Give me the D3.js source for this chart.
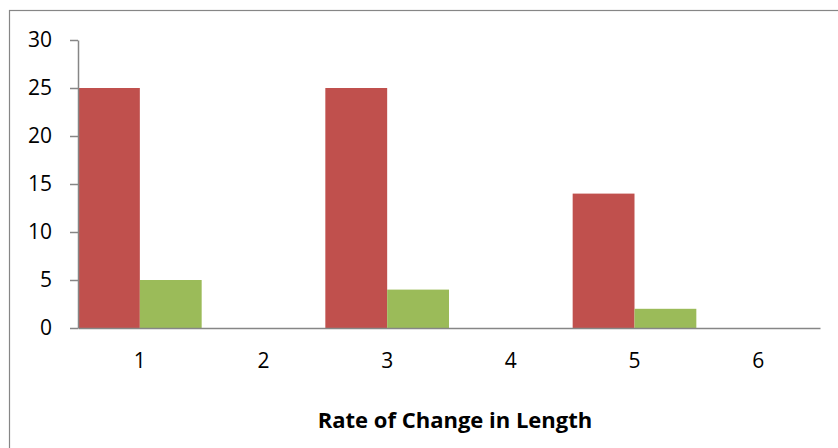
<!DOCTYPE html>
<html>
<head>
<meta charset="utf-8">
<script src="https://cdn.jsdelivr.net/npm/d3@7"></script>
<style>
  html, body { margin: 0; padding: 0; background: #fff; }
  svg { display: block; }
</style>
</head>
<body>
<svg id="chart" width="838" height="448"></svg>
<script>
// Chart data
const categories = ["1", "2", "3", "4", "5", "6"];
const seriesRed = [25, 0, 25, 0, 14, 0];
const seriesGreen = [5, 0, 4, 0, 2, 0];
const yTicks = [0, 5, 10, 15, 20, 25, 30];
const xTitle = "Rate of Change in Length";

const svg = d3.select("#chart");
const W = 838, H = 448;
const plot = { left: 78, right: 820, top: 40, bottom: 328 };
const font = "'Open Sans', Lato, sans-serif";

// Outer chart frame (extends past the right and bottom edges)
svg.append("rect")
  .attr("x", 9.5).attr("y", 10.5)
  .attr("width", W).attr("height", H)
  .attr("fill", "#fff")
  .attr("stroke", "#868686").attr("stroke-width", 1.2);

const x = d3.scaleBand().domain(categories).range([plot.left, plot.right]).padding(0);
const y = d3.scaleLinear().domain([0, 30]).range([plot.bottom, plot.top]);

const rows = categories.map((c, i) => ({ c, red: seriesRed[i], green: seriesGreen[i] }));
const half = x.bandwidth() / 2;

// Red series bars (left half of each band)
svg.append("g").selectAll("rect").data(rows.filter(d => d.red > 0)).join("rect")
  .attr("x", d => x(d.c))
  .attr("y", d => y(d.red))
  .attr("width", half)
  .attr("height", d => y(0) - y(d.red))
  .attr("fill", "#C0504D");

// Green series bars (right half of each band)
svg.append("g").selectAll("rect").data(rows.filter(d => d.green > 0)).join("rect")
  .attr("x", d => x(d.c) + half)
  .attr("y", d => y(d.green))
  .attr("width", half)
  .attr("height", d => y(0) - y(d.green))
  .attr("fill", "#9BBB59");

// Y axis
const yAxis = svg.append("g")
  .attr("transform", `translate(${plot.left},0)`)
  .call(d3.axisLeft(y).tickValues(yTicks).tickSize(8).tickPadding(18).tickSizeOuter(0));
yAxis.select(".domain").attr("stroke", "#868686").attr("stroke-width", 1.5);
yAxis.selectAll(".tick line").attr("stroke", "#868686").attr("stroke-width", 1.5);
yAxis.selectAll(".tick text")
  .attr("fill", "#000").style("font-family", font).style("font-size", "21px");

// X axis
const xAxis = svg.append("g")
  .attr("transform", `translate(0,${plot.bottom})`)
  .call(d3.axisBottom(x).tickSize(0).tickPadding(25).tickSizeOuter(0));
xAxis.select(".domain").attr("stroke", "#868686").attr("stroke-width", 1.5);
xAxis.selectAll(".tick text")
  .attr("fill", "#000").style("font-family", font).style("font-size", "21px");

// X axis title
svg.append("text")
  .attr("x", 455)
  .attr("y", 428)
  .attr("text-anchor", "middle")
  .style("font-family", font).style("font-size", "22px").style("font-weight", "bold")
  .attr("fill", "#000")
  .text(xTitle);
</script>
</body>
</html>
